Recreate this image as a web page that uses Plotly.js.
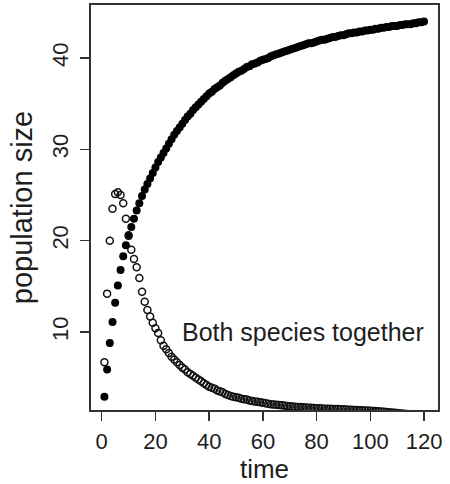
<!DOCTYPE html>
<html>
<head>
<meta charset="utf-8">
<script src="https://cdn.plot.ly/plotly-3.0.1.min.js"></script>
<style>
  html, body { margin: 0; padding: 0; background: #ffffff; }
  #chart { width: 450px; height: 484px; }
</style>
</head>
<body>
<div id="chart"></div>
<script>
// time steps
const time = Array.from({length: 120}, (_, i) => i + 1);

// species 1 (filled circles)
const species1 = [
  2.9, 5.9, 8.8, 11.1, 13.2, 15.1, 16.8, 18.3, 19.5, 20.5,
  21.5, 22.4, 23.3, 24.1, 24.9, 25.6, 26.2, 26.8, 27.4, 28.0,
  28.6, 29.1, 29.6, 30.1, 30.6, 31.1, 31.6, 32.0, 32.4, 32.8,
  33.2, 33.6, 33.9, 34.3, 34.6, 34.9, 35.2, 35.5, 35.8, 36.1,
  36.3, 36.6, 36.8, 37.0, 37.3, 37.5, 37.7, 37.9, 38.1, 38.3,
  38.5, 38.6, 38.8, 39.0, 39.1, 39.3, 39.4, 39.5, 39.7, 39.8,
  39.9, 40.0, 40.2, 40.3, 40.4, 40.5, 40.6, 40.7, 40.8, 40.9,
  41.0, 41.1, 41.2, 41.3, 41.4, 41.5, 41.6, 41.6, 41.7, 41.8,
  41.9, 42.0, 42.0, 42.1, 42.2, 42.3, 42.3, 42.4, 42.5, 42.5,
  42.6, 42.7, 42.7, 42.8, 42.8, 42.9, 42.9, 43.0, 43.0, 43.1,
  43.1, 43.2, 43.2, 43.3, 43.3, 43.4, 43.4, 43.5, 43.5, 43.5,
  43.6, 43.6, 43.7, 43.7, 43.7, 43.8, 43.8, 43.9, 43.9, 44.0
];

// species 2 (open circles)
const species2 = [
  6.7, 14.2, 20.0, 23.5, 25.1, 25.3, 25.0, 24.1, 22.4, 20.6,
  19.0, 18.0, 17.1, 15.9, 14.4, 13.3, 12.4, 11.7, 11.0, 10.4,
  9.9, 9.1, 8.5, 8.1, 7.7, 7.3, 7.0, 6.7, 6.4, 6.1,
  5.9, 5.6, 5.4, 5.2, 5.0, 4.8, 4.6, 4.4, 4.2, 4.0,
  3.9, 3.8, 3.6, 3.5, 3.4, 3.2, 3.1, 3.0, 2.9, 2.85,
  2.8, 2.7, 2.65, 2.6, 2.5, 2.45, 2.4, 2.35, 2.3, 2.25,
  2.2, 2.15, 2.1, 2.07, 2.03, 2.0, 1.97, 1.94, 1.91, 1.88,
  1.85, 1.82, 1.8, 1.78, 1.76, 1.74, 1.72, 1.7, 1.68, 1.66,
  1.64, 1.63, 1.61, 1.6, 1.59, 1.58, 1.57, 1.56, 1.55, 1.54,
  1.52, 1.5, 1.49, 1.47, 1.46, 1.44, 1.42, 1.41, 1.4, 1.38,
  1.36, 1.34, 1.32, 1.3, 1.28, 1.25, 1.22, 1.19, 1.16, 1.13,
  1.1, 1.07, 1.04, 1.01, 0.98, 0.96, 0.94, 0.92, 0.9, 0.88
];

const xTicks = [0, 20, 40, 60, 80, 100, 120];
const yTicks = [10, 20, 30, 40];
const annotationText = "Both species together";
const xLabel = "time";
const yLabel = "population size";

const ink = "#1e1e1e";

const traces = [
  {
    x: time, y: species1, type: "scatter", mode: "markers",
    marker: {symbol: "circle", size: 8, color: "#000000", line: {width: 0}},
    hoverinfo: "skip", showlegend: false, cliponaxis: true
  },
  {
    x: time, y: species2, type: "scatter", mode: "markers",
    marker: {symbol: "circle-open", size: 7, color: "#111111", line: {width: 1.5, color: "#111111"}},
    hoverinfo: "skip", showlegend: false, cliponaxis: true
  }
];

const layout = {
  width: 450, height: 484,
  margin: {l: 91, r: 12, t: 5, b: 74, pad: 0},
  paper_bgcolor: "#ffffff", plot_bgcolor: "#ffffff",
  showlegend: false,
  xaxis: {
    range: [-4.0, 125.2],
    tickvals: xTicks, ticktext: xTicks.map(String),
    ticks: "outside", ticklen: 9, tickwidth: 1.5, tickcolor: "#333333",
    showline: true, mirror: true, linecolor: "#333333", linewidth: 1.6,
    showgrid: false, zeroline: false,
    tickfont: {family: "Liberation Sans Narrow, Arial Narrow, Liberation Sans, sans-serif", size: 22, color: ink},
    ticklabelstandoff: 2,
    title: {text: xLabel, font: {family: "Liberation Sans, Arial, sans-serif", size: 26, color: ink}, standoff: 6}
  },
  yaxis: {
    range: [1.46, 45.8],
    tickvals: yTicks, ticktext: yTicks.map(String),
    tickangle: -90,
    ticks: "outside", ticklen: 9, tickwidth: 1.5, tickcolor: "#333333",
    showline: true, mirror: true, linecolor: "#333333", linewidth: 1.6,
    showgrid: false, zeroline: false,
    tickfont: {family: "Liberation Sans, Arial, sans-serif", size: 22, color: ink},
    ticklabelstandoff: 4,
    title: {text: yLabel, font: {family: "Liberation Sans, Arial, sans-serif", size: 29, color: ink}, standoff: 6}
  },
  annotations: [{
    x: 75, y: 10, xref: "x", yref: "y",
    text: annotationText, showarrow: false,
    xanchor: "center", yanchor: "middle",
    font: {family: "Liberation Sans, Arial, sans-serif", size: 25, color: ink}
  }]
};

Plotly.newPlot("chart", traces, layout, {staticPlot: true, displayModeBar: false});
</script>
</body>
</html>
